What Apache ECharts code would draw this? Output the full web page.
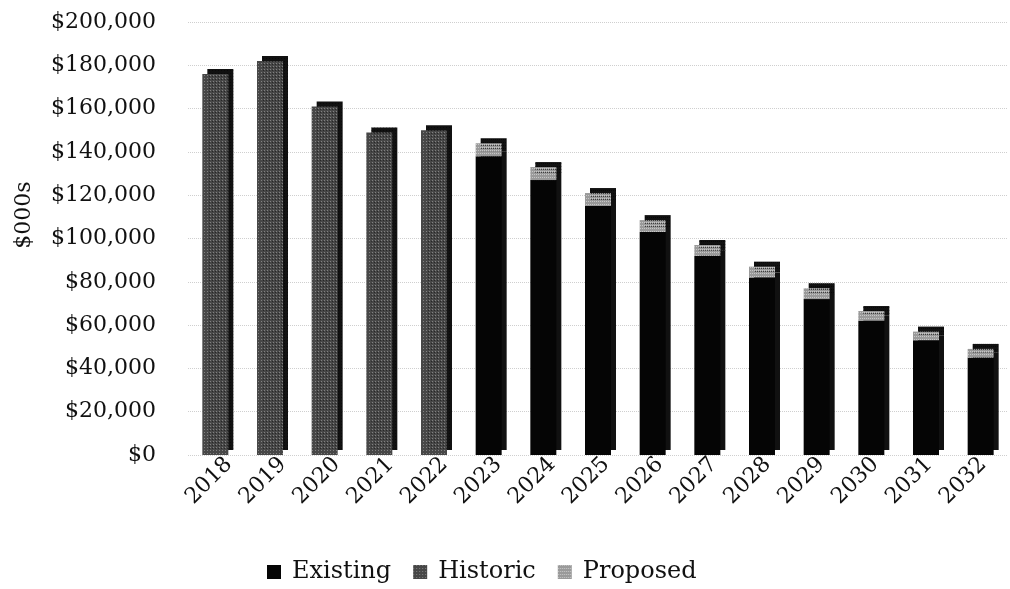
<!DOCTYPE html>
<html>
<head>
<meta charset="utf-8">
<script src="https://cdn.jsdelivr.net/npm/echarts@6/dist/echarts.min.js"></script>
<style>
  html, body { margin: 0; padding: 0; background: #fff; }
  #main { width: 1010px; height: 589px; }
</style>
</head>
<body>
<div id="main"></div>
<script>
var years = ['2018', '2019', '2020', '2021', '2022', '2023', '2024', '2025',
  '2026', '2027', '2028', '2029', '2030', '2031', '2032'];
var historic = [176000, 182000, 161000, 149000, 150000, null, null, null,
  null, null, null, null, null, null, null];
var existing = [null, null, null, null, null, 138000, 127000, 115000,
  103000, 92000, 82000, 72000, 62000, 53000, 45000];
var proposed = [null, null, null, null, null, 6000, 6000, 6000,
  5500, 5000, 5000, 5000, 4500, 4000, 4000];
var yTicks = [0, 20000, 40000, 60000, 80000, 100000, 120000, 140000, 160000, 180000, 200000];

var font = 'DejaVu Serif';

function fmt(v) {
  return '$' + v.toString().replace(/\B(?=(\d{3})+(?!\d))/g, ',');
}

// fake the 3d side/top face with a hard offset shadow
function barStyle(color, decal) {
  return {
    color: color,
    shadowColor: '#111',
    shadowBlur: 0,
    shadowOffsetX: 5,
    shadowOffsetY: -5,
    decal: decal
  };
}

var chart = echarts.init(document.getElementById('main'), null, { renderer: 'canvas' });

var option = {
  backgroundColor: '#fff',
  animation: false,
  grid: [
    { left: 188, right: 2, top: 22, bottom: 134 },
    // same axis shifted right, only for the year labels (3d front plane)
    { left: 202, right: -12, top: 22, bottom: 134 }
  ],
  legend: {
    bottom: 0,
    left: 262,
    icon: 'rect',
    itemWidth: 14,
    itemHeight: 14,
    itemGap: 22,
    textStyle: { fontFamily: font, fontSize: 24, color: '#111', padding: [0, 0, 0, 6] },
    data: ['Existing', 'Historic', 'Proposed']
  },
  graphic: [{
    type: 'text',
    x: 24,
    y: 215,
    rotation: Math.PI / 2,
    style: {
      text: '$000s',
      fontFamily: font,
      fontSize: 22,
      fill: '#111',
      align: 'center',
      verticalAlign: 'middle'
    }
  }],
  xAxis: [
    {
      type: 'category',
      data: years,
      gridIndex: 0,
      axisLine: { show: false },
      axisTick: { show: false },
      axisLabel: { show: false }
    },
    {
      type: 'category',
      data: years,
      gridIndex: 1,
      axisLine: { show: false },
      axisTick: { show: false },
      axisLabel: {
        rotate: 45,
        margin: 6,
        fontFamily: font,
        fontSize: 22,
        color: '#111'
      }
    }
  ],
  yAxis: [
    {
      type: 'value',
      gridIndex: 0,
      min: yTicks[0],
      max: yTicks[yTicks.length - 1],
      interval: 20000,
      axisLine: { show: false },
      axisTick: { show: false },
      axisLabel: {
        margin: 32,
        fontFamily: font,
        fontSize: 22,
        color: '#111',
        formatter: fmt
      },
      splitLine: { lineStyle: { color: '#cfcfcf', type: 'dotted', width: 1 } }
    },
    {
      type: 'value',
      gridIndex: 1,
      min: 0,
      max: 200000,
      show: false
    }
  ],
  series: [
    {
      name: 'Existing',
      type: 'bar',
      stack: 'total',
      barWidth: 26,
      data: existing,
      itemStyle: barStyle('#050505')
    },
    {
      name: 'Historic',
      type: 'bar',
      stack: 'total',
      barWidth: 26,
      data: historic,
      itemStyle: barStyle('#474747', {
        symbol: 'rect',
        symbolSize: 1,
        color: 'rgba(200,200,200,0.45)',
        dashArrayX: [1, 2],
        dashArrayY: [1, 2]
      })
    },
    {
      name: 'Proposed',
      type: 'bar',
      stack: 'total',
      barWidth: 26,
      data: proposed,
      itemStyle: barStyle('#9a9a9a', {
        symbol: 'rect',
        symbolSize: 1,
        color: 'rgba(230,230,230,0.6)',
        dashArrayX: [1, 1],
        dashArrayY: [1, 2]
      })
    }
  ]
};

chart.setOption(option);
</script>
</body>
</html>
